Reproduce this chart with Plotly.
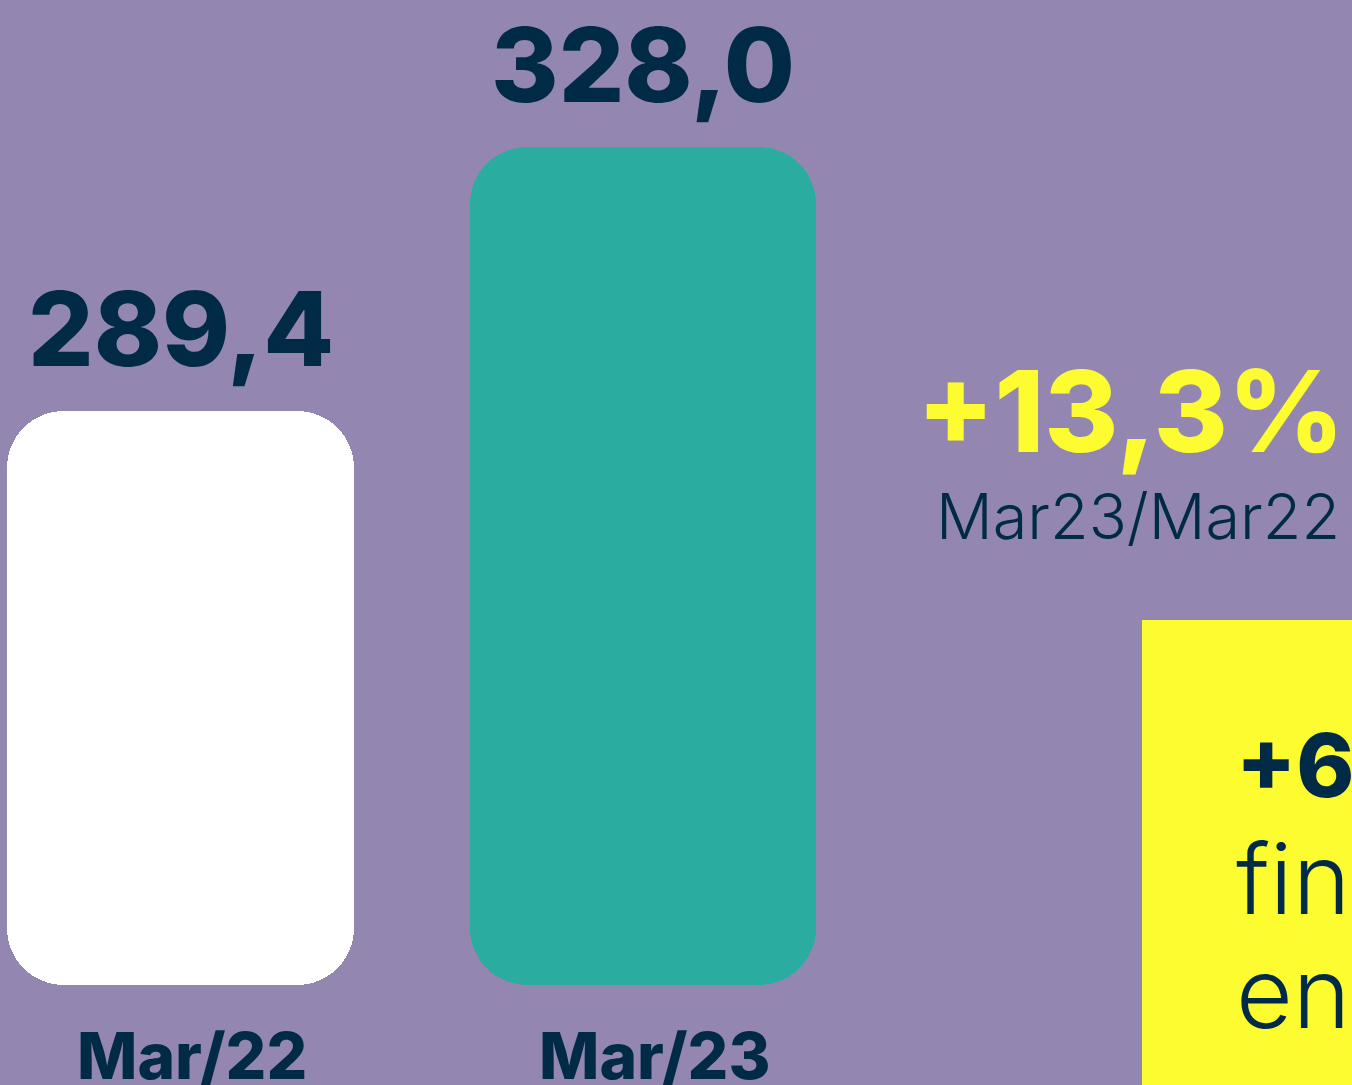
import plotly.graph_objects as go

# ---- data ----
categories = ["Mar/22", "Mar/23"]
values = [289.4, 328.0]
value_labels = ["289,4", "328,0"]
growth_label = "+13,3%"
growth_period = "Mar23/Mar22"
box_lines = ["+6", "fin", "en"]

# ---- style ----
BG = "#9387B1"
NAVY = "#002A46"
YELLOW = "#FCFC31"
bar_colors = ["#FFFFFF", "#2BACA0"]
FONT = "Inter"
W, H = 1352, 1085
AXIS_BASE = 205.5          # value at the bars' bottom edge
Y_RANGE = [190.88, 349.49]
X_RANGE = [-0.3903, 2.533]
BAR_W = 0.75
RADIUS = 57

fig = go.Figure()
fig.add_trace(go.Bar(
    x=categories, y=[v - AXIS_BASE for v in values], base=AXIS_BASE,
    width=BAR_W, marker=dict(color=bar_colors, cornerradius=RADIUS, line=dict(width=0)),
    hoverinfo="skip", showlegend=False))

annotations = []
for c, v, lab in zip(categories, values, value_labels):
    annotations.append(dict(x=c, y=v, text=lab, showarrow=False, yanchor="bottom",
                            xanchor="center", yshift=18,
                            font=dict(family=FONT, size=103, color=NAVY, weight=800)))
    annotations.append(dict(x=c, y=AXIS_BASE, text=c, showarrow=False, yanchor="top",
                            xanchor="center", yshift=-30, xshift=11,
                            font=dict(family=FONT, size=64, color=NAVY, weight=800)))

annotations.append(dict(xref="paper", yref="paper", x=1130 / W, y=1 - 411 / H,
                        text=growth_label, showarrow=False, xanchor="center", yanchor="middle",
                        font=dict(family=FONT, size=113, color=YELLOW, weight=800)))
annotations.append(dict(xref="paper", yref="paper", x=1138 / W, y=1 - 516 / H,
                        text=growth_period, showarrow=False, xanchor="center", yanchor="middle",
                        font=dict(family=FONT, size=63, color=NAVY, weight=300)))

# yellow callout box
shapes = [dict(type="rect", xref="paper", yref="paper", x0=1142 / W, x1=1.05,
               y0=-0.05, y1=1 - 620 / H, fillcolor=YELLOW, line=dict(width=0), layer="above")]
line_y = [765, 878, 992]
for i, (txt, yy) in enumerate(zip(box_lines, line_y)):
    annotations.append(dict(xref="paper", yref="paper", x=1234 / W, y=1 - yy / H,
                            text=txt, showarrow=False, xanchor="left", yanchor="middle",
                            font=dict(family=FONT, size=88 if i == 0 else 98, color=NAVY,
                                      weight=800 if i == 0 else 300)))

fig.update_layout(
    width=W, height=H, margin=dict(l=0, r=0, t=0, b=0),
    paper_bgcolor=BG, plot_bgcolor=BG, barmode="overlay", bargap=0,
    xaxis=dict(type="category", range=X_RANGE, visible=False, fixedrange=True),
    yaxis=dict(range=Y_RANGE, visible=False, fixedrange=True),
    annotations=annotations, shapes=shapes, showlegend=False,
)

fig.write_html("out.html", config={"displayModeBar": False},
               post_script="document.body.style.margin='0';document.body.style.overflow='hidden';")
